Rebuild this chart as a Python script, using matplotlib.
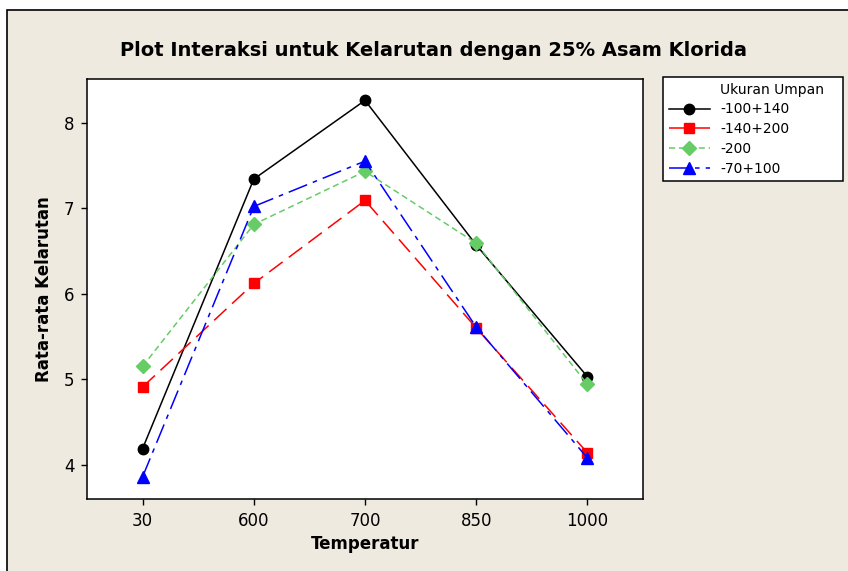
import matplotlib.pyplot as plt
from matplotlib.lines import Line2D
from matplotlib.patches import Rectangle

# data
temperatur = ['30', '600', '700', '850', '1000']
ukuran = ['-100+140', '-140+200', '-200', '-70+100']
s_100_140 = [4.19, 7.34, 8.26, 6.57, 5.03]
s_140_200 = [4.91, 6.12, 7.09, 5.60, 4.14]
s_200 = [5.15, 6.81, 7.43, 6.59, 4.94]
s_70_100 = [3.86, 7.02, 7.55, 5.61, 4.08]

bg = '#EEEAE0'

fig = plt.figure(figsize=(8.48, 5.71), dpi=100)
fig.patch.set_facecolor('white')
fig.patches.append(Rectangle((7 / 848, -0.01), 1.0, 1 - 10 / 571 + 0.01,
                             transform=fig.transFigure, facecolor=bg,
                             edgecolor='black', linewidth=1.2, zorder=-10))

ax = fig.add_axes([87 / 848, 72 / 571, 556 / 848, 420 / 571])
ax.set_facecolor('white')

x = range(len(temperatur))
ax.plot(x, s_100_140, color='black', lw=1.1, ls='-', marker='o', ms=7.5,
        label=ukuran[0])
ax.plot(x, s_140_200, color='#FF0000', lw=1.1, ls=(0, (11, 5)), marker='s', ms=7,
        label=ukuran[1])
ax.plot(x, s_200, color='#66CC66', lw=1.1, ls=(0, (4, 2.5)), marker='D', ms=7,
        label=ukuran[2])
ax.plot(x, s_70_100, color='#0000FF', lw=1.1, ls=(0, (13, 4, 3, 4)), marker='^', ms=8,
        label=ukuran[3])

ax.set_xlim(-0.5, 4.5)
ax.set_ylim(3.6, 8.51)
ax.set_xticks(list(x))
ax.set_xticklabels(temperatur)
ax.set_yticks([4, 5, 6, 7, 8])
ax.tick_params(direction='out', length=4, width=1, labelsize=12, pad=5)
for sp in ax.spines.values():
    sp.set_linewidth(1.1)

ax.set_xlabel('Temperatur', fontsize=12, fontweight='bold', labelpad=4)
ax.set_ylabel('Rata-rata Kelarutan', fontsize=12, fontweight='bold', labelpad=8)

fig.text(0.511, 0.912, 'Plot Interaksi untuk Kelarutan dengan 25% Asam Klorida',
         ha='center', va='center', fontsize=14, fontweight='bold')

# legend with the title as a blank first row
handles, labels = ax.get_legend_handles_labels()
blank = Line2D([], [], linestyle='none')
leg = fig.legend([blank] + handles, ['Ukuran Umpan'] + labels,
                 loc='upper left',
                 bbox_to_anchor=(663 / 848, 1 - 77 / 571, 180 / 848, 0.0),
                 mode='expand', fontsize=10, handlelength=3.0,
                 handletextpad=0.7, labelspacing=0.42, borderpad=0.4,
                 frameon=True, fancybox=False, framealpha=1, borderaxespad=0)
leg.get_frame().set_edgecolor('black')
leg.get_frame().set_linewidth(1.1)
leg.get_frame().set_facecolor('white')

fig.savefig('out.png', dpi=100, facecolor=fig.get_facecolor())
